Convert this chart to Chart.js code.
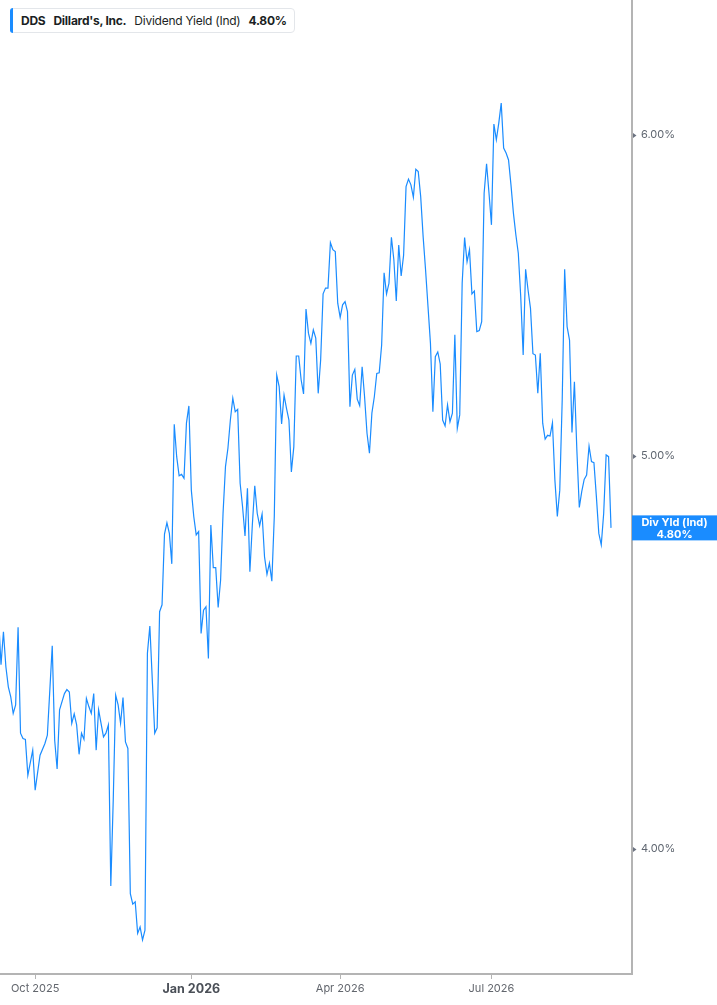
<!DOCTYPE html>
<html>
<head>
<meta charset="utf-8">
<title>DDS Dividend Yield</title>
<script src="https://cdn.jsdelivr.net/npm/chart.js@4.4.1/dist/chart.umd.min.js"></script>
<style>
  html, body { margin: 0; padding: 0; background: #fff; }
  #wrap { position: relative; width: 717px; height: 1005px; overflow: hidden; }
  #chart { display: block; }
  .legend {
    position: absolute; left: 10px; top: 8px; height: 25px; box-sizing: border-box;
    padding: 0 7px 0 10px; display: flex; align-items: center; gap: 8px;
    border: 1px solid #e3e6ea; border-radius: 4px; background: #fff;
    font: 12px Inter, Roboto, sans-serif; letter-spacing: -0.25px; color: #1b1f24; white-space: nowrap;
  }
  .legend::before {
    content: ""; position: absolute; left: -1px; top: -1px; bottom: -1px; width: 3px;
    background: #1a8cff; border-radius: 4px 0 0 4px;
  }
  .legend b { font-weight: 700; }
</style>
</head>
<body>
<div id="wrap">
  <canvas id="chart" width="717" height="1005"></canvas>
  <div class="legend"><b>DDS</b><b>Dillard's, Inc.</b><span>Dividend Yield (Ind)</span><b>4.80%</b></div>
</div>
<script>
// 配当利回り(Ind)を取引日ごとに読み取った値。null は読めなかった日(線はそのまま繋ぐ)
const firstSession = -1;
const yields = [
  4.561, 4.441, 4.525, 4.436, 4.386, 4.361, 4.320, 4.341, 4.537, 4.272,
  4.259, 4.257, 4.171, null, 4.231, 4.136, null, 4.219, null, 4.247,
  4.267, null, 4.489, 4.255, 4.186, 4.329, null, 4.369, 4.379, 4.373,
  4.296, 4.319, 4.292, 4.221, 4.272, 4.257, 4.357, 4.337, 4.320, 4.369,
  4.231, 4.329, 4.296, 4.263, 4.272, 4.292, 3.917, 4.113, 4.365, 4.341,
  4.296, 4.359, 4.251, 4.235, 3.900, 3.877, 3.882, 3.813, 3.827, 3.799,
  3.820, 4.470, 4.540, null, 4.272, 4.285, 4.577, 4.595, 4.783, 4.814,
  4.785, 4.703, 5.091, 4.998, 4.944, 4.948, 4.937, 5.094, 5.144, 4.904,
  4.831, 4.781, 4.790, 4.521, 4.581, 4.590, 4.457, 4.808, 4.693, 4.693,
  4.588, 4.660, 4.840, 4.970, 5.022, 5.103, 5.167, 5.127, 5.134, 4.923,
  4.858, 4.778, 4.909, 4.682, 4.808, 4.916, 4.840, 4.806, 4.838, 4.722,
  4.675, 4.705, 4.657, 4.831, 5.235, 5.201, 5.092, 5.176, 5.137, 5.103,
  4.955, 5.026, 5.292, 5.292, 5.221, 5.179, 5.435, 5.361, 5.330, 5.371,
  5.346, 5.181, 5.280, 5.482, 5.500, 5.500, 5.644, 5.621, 5.615, 5.453,
  5.409, 5.448, 5.458, 5.427, 5.142, 5.235, 5.252, 5.164, 5.145, 5.260,
  5.171, 5.065, 5.008, 5.123, 5.171, 5.240, 5.242, 5.325, 5.548, 5.482,
  5.515, 5.661, 5.589, 5.460, 5.636, 5.538, 5.604, 5.826, 5.851, 5.832,
  5.791, 5.884, 5.876, 5.793, 5.663, 5.557, 5.442, 5.330, 5.127, 5.290,
  5.304, 5.268, 5.103, 5.086, 5.147, 5.098, 5.123, 5.356, 5.079, 5.118,
  5.515, 5.660, 5.583, 5.621, 5.482, 5.491, 5.366, 5.369, 5.396, 5.804,
  5.902, 5.804, 5.701, 6.037, 5.983, 6.040, 6.109, 5.955, 5.938, 5.915,
  5.832, 5.739, 5.669, 5.610, 5.473, 5.295, 5.559, 5.494, 5.437, 5.299,
  5.295, 5.181, 5.300, 5.094, 5.048, 5.059, 5.057, 5.095, 4.932, 4.831,
  4.904, 5.162, 5.559, 5.381, 5.340, 5.067, 5.215, 5.017, 4.856, 4.900,
  4.934, 4.946, 5.028, 4.984, 4.981, 4.886, 4.785, 4.754, 4.840, 5.003,
  4.998, 4.80,
];

const tickSessions = [14, 78, 139, 201];
const tickLabels = ["Oct 2025", "Jan 2026", "Apr 2026", "Jul 2026"];
const yearStartSession = 78; // 年初の目盛だけ太字
const yTicks = [4, 5, 6];
const lastYield = 4.8;
const endLabel = ["Div Yld (Ind)", "4.80%"];

const blue = "#1a8cff";
const axisGrey = "#b4b4b4";
const FONT = "Inter, Roboto, sans-serif";

// 右軸の三角マーカーと、最終値の青いラベル
const axisMarks = {
  id: "axisMarks",
  afterDraw(chart) {
    const { ctx, chartArea, scales } = chart;
    const y = scales.y;
    ctx.save();
    ctx.fillStyle = "#6b7280";
    yTicks.forEach((v) => {
      const py = Math.round(y.getPixelForValue(v)) + 0.5;
      ctx.beginPath();
      ctx.moveTo(chartArea.right + 1, py - 2.5);
      ctx.lineTo(chartArea.right + 4.5, py);
      ctx.lineTo(chartArea.right + 1, py + 2.5);
      ctx.closePath();
      ctx.fill();
    });

    const py = y.getPixelForValue(lastYield);
    const x0 = chartArea.right;
    const w = chart.width - x0;
    ctx.fillStyle = blue;
    ctx.fillRect(x0, py - 12.5, w, 25);
    ctx.fillStyle = "#fff";
    ctx.font = `700 11px ${FONT}`;
    ctx.textAlign = "center";
    ctx.textBaseline = "middle";
    ctx.fillText(endLabel[0], x0 + w / 2, py - 5.5);
    ctx.fillText(endLabel[1], x0 + w / 2, py + 6.5);
    ctx.restore();
  },
};

new Chart(document.getElementById("chart"), {
  type: "line",
  data: {
    datasets: [
      {
        data: yields.map((v, i) => ({ x: firstSession + i, y: v })),
        borderColor: blue,
        borderWidth: 1.2,
        pointRadius: 0,
        tension: 0,
        spanGaps: true,
      },
    ],
  },
  options: {
    responsive: false,
    animation: false,
    devicePixelRatio: 1,
    layout: { padding: 0 },
    plugins: { legend: { display: false }, tooltip: { enabled: false } },
    scales: {
      x: {
        type: "linear",
        min: -0.41,
        max: 258.6,
        afterFit: (s) => {
          s.height = 31;
          s.paddingLeft = 0;
          s.paddingRight = 0;
        },
        afterBuildTicks: (s) => { s.ticks = tickSessions.map((v) => ({ value: v })); },
        grid: { drawOnChartArea: false, drawTicks: true, tickLength: 5, color: axisGrey, lineWidth: 1 },
        border: { display: true, color: axisGrey, width: 2 },
        ticks: {
          autoSkip: false,
          maxRotation: 0,
          padding: 3,
          callback: (v) => tickLabels[tickSessions.indexOf(v)],
          color: (c) => (c.tick && c.tick.value === yearStartSession ? "#4a4f57" : "#62666d"),
          font: (c) =>
            c.tick && c.tick.value === yearStartSession
              ? { family: FONT, size: 12.5, weight: "700" }
              : { family: FONT, size: 11, weight: "400" },
        },
      },
      y: {
        type: "logarithmic",
        position: "right",
        min: 3.7261,
        max: 6.4772,
        afterFit: (s) => {
          s.width = 85;
          s.paddingTop = 0;
          s.paddingBottom = 0;
        },
        afterBuildTicks: (s) => { s.ticks = yTicks.map((v) => ({ value: v })); },
        grid: { drawOnChartArea: false, drawTicks: false, color: axisGrey },
        border: { display: true, color: axisGrey, width: 2 },
        ticks: {
          padding: 9,
          color: "#5f6670",
          font: { family: FONT, size: 11 },
          callback: (v) => `${Number(v).toFixed(2)}%`,
        },
      },
    },
  },
  plugins: [axisMarks],
});
</script>
</body>
</html>
